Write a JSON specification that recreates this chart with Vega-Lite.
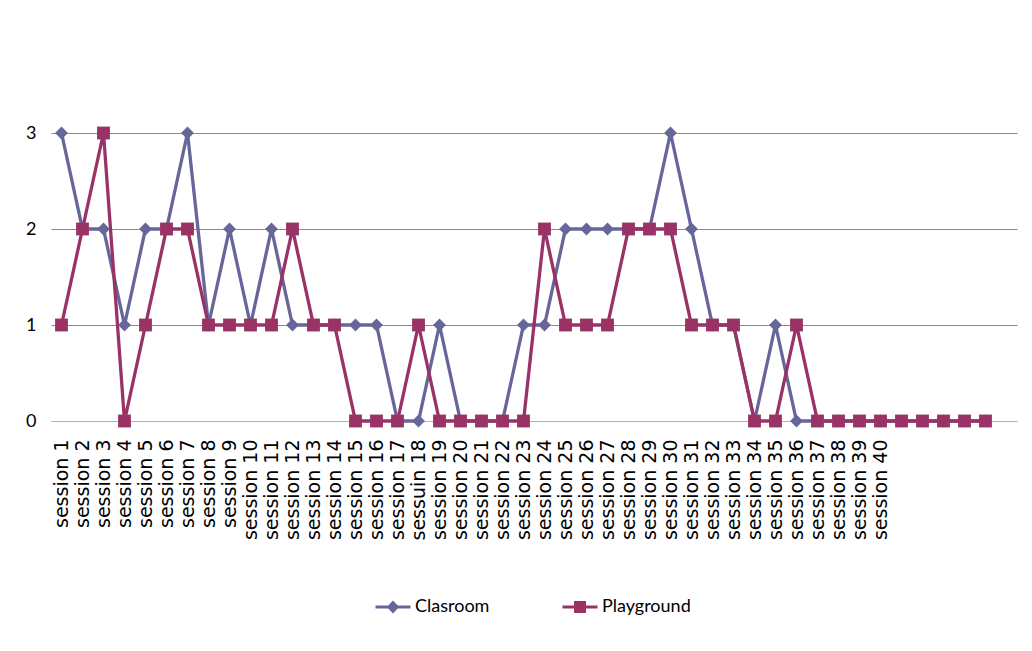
{
  "$schema": "https://vega.github.io/schema/vega-lite/v6.json",
  "width": 966,
  "height": 288,
  "autosize": {"type": "none"},
  "padding": {"left": 51, "top": 133, "right": 15, "bottom": 230},
  "background": "white",
  "config": {"view": {"stroke": null}, "font": "DejaVu Sans"},
  "data": {
    "values": [
      {"session": "session 1", "Clasroom": 3, "Playground": 1},
      {"session": "session 2", "Clasroom": 2, "Playground": 2},
      {"session": "session 3", "Clasroom": 2, "Playground": 3},
      {"session": "session 4", "Clasroom": 1, "Playground": 0},
      {"session": "session 5", "Clasroom": 2, "Playground": 1},
      {"session": "session 6", "Clasroom": 2, "Playground": 2},
      {"session": "session 7", "Clasroom": 3, "Playground": 2},
      {"session": "session 8", "Clasroom": 1, "Playground": 1},
      {"session": "session 9", "Clasroom": 2, "Playground": 1},
      {"session": "session 10", "Clasroom": 1, "Playground": 1},
      {"session": "session 11", "Clasroom": 2, "Playground": 1},
      {"session": "session 12", "Clasroom": 1, "Playground": 2},
      {"session": "session 13", "Clasroom": 1, "Playground": 1},
      {"session": "session 14", "Clasroom": 1, "Playground": 1},
      {"session": "session 15", "Clasroom": 1, "Playground": 0},
      {"session": "session 16", "Clasroom": 1, "Playground": 0},
      {"session": "session 17", "Clasroom": 0, "Playground": 0},
      {"session": "sessuin 18", "Clasroom": 0, "Playground": 1},
      {"session": "session 19", "Clasroom": 1, "Playground": 0},
      {"session": "session 20", "Clasroom": 0, "Playground": 0},
      {"session": "session 21", "Clasroom": 0, "Playground": 0},
      {"session": "session 22", "Clasroom": 0, "Playground": 0},
      {"session": "session 23", "Clasroom": 1, "Playground": 0},
      {"session": "session 24", "Clasroom": 1, "Playground": 2},
      {"session": "session 25", "Clasroom": 2, "Playground": 1},
      {"session": "session 26", "Clasroom": 2, "Playground": 1},
      {"session": "session 27", "Clasroom": 2, "Playground": 1},
      {"session": "session 28", "Clasroom": 2, "Playground": 2},
      {"session": "session 29", "Clasroom": 2, "Playground": 2},
      {"session": "session 30", "Clasroom": 3, "Playground": 2},
      {"session": "session 31", "Clasroom": 2, "Playground": 1},
      {"session": "session 32", "Clasroom": 1, "Playground": 1},
      {"session": "session 33", "Clasroom": 1, "Playground": 1},
      {"session": "session 34", "Clasroom": 0, "Playground": 0},
      {"session": "session 35", "Clasroom": 1, "Playground": 0},
      {"session": "session 36", "Clasroom": 0, "Playground": 1},
      {"session": "session 37", "Clasroom": 0, "Playground": 0},
      {"session": "session 38", "Clasroom": 0, "Playground": 0},
      {"session": "session 39", "Clasroom": 0, "Playground": 0},
      {"session": "session 40", "Clasroom": 0, "Playground": 0},
      {"session": " ", "Clasroom": 0, "Playground": 0},
      {"session": "  ", "Clasroom": 0, "Playground": 0},
      {"session": "   ", "Clasroom": 0, "Playground": 0},
      {"session": "    ", "Clasroom": 0, "Playground": 0},
      {"session": "     ", "Clasroom": 0, "Playground": 0}
    ]
  },
  "transform": [{"fold": ["Clasroom", "Playground"], "as": ["series", "value"]}],
  "encoding": {
    "x": {
      "field": "session",
      "type": "ordinal",
      "sort": null,
      "scale": {
        "domain": ["session 1","session 2","session 3","session 4","session 5","session 6","session 7","session 8","session 9","session 10","session 11","session 12","session 13","session 14","session 15","session 16","session 17","sessuin 18","session 19","session 20","session 21","session 22","session 23","session 24","session 25","session 26","session 27","session 28","session 29","session 30","session 31","session 32","session 33","session 34","session 35","session 36","session 37","session 38","session 39","session 40"," ","  ","   ","    ","     ","      "],
        "padding": 0.5
      },
      "axis": {
        "title": null,
        "labelAngle": -90,
        "ticks": false,
        "labelPadding": 18,
        "labelFontSize": 19,
        "labelFont": "DejaVu Sans",
        "labelColor": "#000000",
        "domainColor": "#b0b0b0",
        "domainWidth": 1,
        "grid": false,
        "labelOverlap": false
      }
    },
    "y": {
      "field": "value",
      "type": "quantitative",
      "scale": {"domain": [0, 3], "nice": false, "zero": true},
      "axis": {
        "title": null,
        "values": [0, 1, 2, 3],
        "format": "d",
        "domain": false,
        "ticks": false,
        "labelPadding": 15,
        "labelFontSize": 18,
        "labelFont": "Lato",
        "labelColor": "#000000",
        "gridColor": {"condition": {"test": "datum.value === 0", "value": "#b0b0b0"}, "value": "#898989"},
        "gridWidth": 1
      }
    }
  },
  "layer": [
    {
      "mark": {"type": "line", "strokeWidth": 3.3},
      "encoding": {
        "color": {
          "field": "series",
          "type": "nominal",
          "scale": {"domain": ["Clasroom", "Playground"], "range": ["#666699", "#993366"]},
          "legend": null
        }
      }
    },
    {
      "mark": {"type": "point", "filled": true, "size": 165, "opacity": 1},
      "encoding": {
        "color": {
          "field": "series",
          "type": "nominal",
          "scale": {"domain": ["Clasroom", "Playground"], "range": ["#666699", "#993366"]},
          "legend": null
        },
        "shape": {
          "field": "series",
          "type": "nominal",
          "scale": {"domain": ["Clasroom", "Playground"], "range": ["diamond", "square"]},
          "legend": null
        }
      }
    },
    {
      "transform": [{"filter": "datum.series === 'Clasroom'"}],
      "mark": {"type": "point", "filled": true, "opacity": 0, "color": "#666699"},
      "encoding": {
        "shape": {
          "field": "series",
          "type": "nominal",
          "scale": {
            "domain": ["Clasroom"],
            "range": ["M-1.75,-0.15H1.75V0.15H-1.75ZM0,-0.65L0.62,0L0,0.65L-0.62,0Z"]
          },
          "legend": {
            "title": null,
            "orient": "none",
            "legendX": 332,
            "legendY": 464,
            "direction": "horizontal",
            "symbolSize": 400,
            "labelFontSize": 18,
            "labelFont": "Lato",
            "labelColor": "#000000",
            "labelOffset": 12,
            "padding": 0,
            "symbolStrokeWidth": 0,
            "symbolOpacity": 1
          }
        }
      }
    },
    {
      "transform": [{"filter": "datum.series === 'Playground'"}],
      "mark": {"type": "point", "filled": true, "opacity": 0, "color": "#993366"},
      "encoding": {
        "shape": {
          "field": "series",
          "type": "nominal",
          "scale": {
            "domain": ["Playground"],
            "range": ["M-1.75,-0.15H1.75V0.15H-1.75ZM-0.6,-0.6H0.6V0.6H-0.6Z"]
          },
          "legend": {
            "title": null,
            "orient": "none",
            "legendX": 519,
            "legendY": 464,
            "direction": "horizontal",
            "symbolSize": 400,
            "labelFontSize": 18,
            "labelFont": "Lato",
            "labelColor": "#000000",
            "labelOffset": 12,
            "padding": 0,
            "symbolStrokeWidth": 0,
            "symbolOpacity": 1
          }
        }
      }
    }
  ],
  "resolve": {"scale": {"shape": "independent"}, "legend": {"shape": "independent"}}
}
